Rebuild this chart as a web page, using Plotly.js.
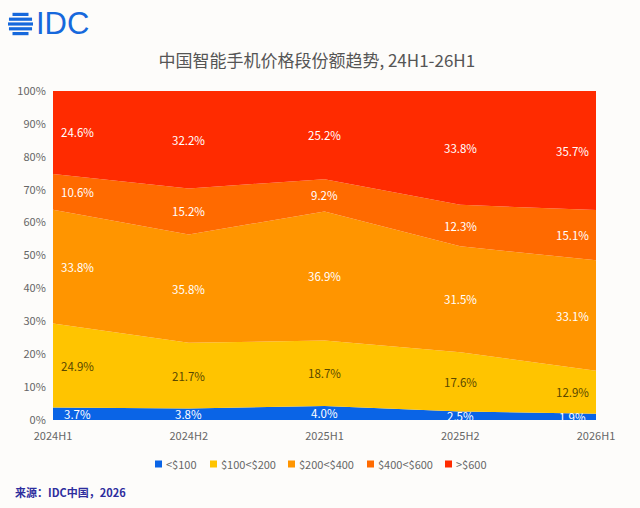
<!DOCTYPE html>
<html>
<head>
<meta charset="utf-8">
<script src="https://cdn.plot.ly/plotly-3.0.1.min.js"></script>
<style>
  html, body { margin: 0; padding: 0; background: #fdfcfa; }
  #chart { width: 640px; height: 508px; }
</style>
</head>
<body>
<div id="chart"></div>
<script>
// periodos e valores (% de participacao por faixa de preco)
const periodos = ["2024H1", "2024H2", "2025H1", "2025H2", "2026H1"];
const faixas = ["<$100", "$100<$200", "$200<$400", "$400<$600", ">$600"];
const ate100 = [3.7, 3.8, 4.0, 2.5, 1.9];
const de100a200 = [24.9, 21.7, 18.7, 17.6, 12.9];
const de200a400 = [33.8, 35.8, 36.9, 31.5, 33.1];
const de400a600 = [10.6, 15.2, 9.2, 12.3, 15.1];
const acima600 = [24.6, 32.2, 25.2, 33.8, 35.7];

const series = [ate100, de100a200, de200a400, de400a600, acima600];
const cores = ["#0a64e6", "#ffc400", "#ff9500", "#ff6a00", "#ff2b00"];
const corTexto = ["#ffffff", "#5a4800", "#ffffff", "#ffffff", "#ffffff"];
const FONTE = "Noto Sans CJK SC, Noto Sans, sans-serif";

// converte pixel da pagina para coordenadas paper
const PL = 53, PW = 543, PB = 420, PH = 329;
const px = (v) => (v - PL) / PW;
const py = (v) => (PB - v) / PH;

const traces = series.map((vals, i) => ({
    x: periodos,
    y: vals,
    name: faixas[i],
    type: "scatter",
    mode: "none",
    stackgroup: "g",
    groupnorm: "percent",
    fillcolor: cores[i],
    line: { width: 0 },
    hoverinfo: "skip",
}));

// rotulos no meio de cada faixa (posicao normalizada)
const annotations = [];
periodos.forEach((p, j) => {
    const total = series.reduce((s, arr) => s + arr[j], 0);
    let base = 0;
    series.forEach((arr, i) => {
        const h = arr[j] / total * 100;
        let xshift = 0;
        if (j === 0) xshift = 24;
        if (j === periodos.length - 1) xshift = -24;
        annotations.push({
            x: j, y: base + h / 2, xref: "x", yref: "y",
            text: arr[j].toFixed(1) + "%",
            showarrow: false, xshift: xshift,
            font: { family: FONTE, size: 11.5, color: corTexto[i] },
        });
        base += h;
    });
});

const shapes = [];

// legenda feita a mao (quadrados pequenos)
const legX = [155, 210, 288, 367, 445];
faixas.forEach((nome, i) => {
    shapes.push({
        type: "rect", xref: "paper", yref: "paper",
        x0: px(legX[i]), x1: px(legX[i] + 7),
        y0: py(467.5), y1: py(460.5),
        fillcolor: cores[i], line: { width: 0 },
    });
    annotations.push({
        x: px(legX[i] + 9), y: py(464), xref: "paper", yref: "paper",
        text: nome, showarrow: false, xanchor: "left", yanchor: "middle",
        font: { family: FONTE, size: 11, color: "#666666" },
    });
});

annotations.push({
    x: px(13), y: py(492), xref: "paper", yref: "paper",
    text: "<b>来源：IDC中国，2026</b>",
    showarrow: false, xanchor: "left", yanchor: "middle",
    font: { family: FONTE, size: 11, color: "#2e2e9e" },
});
annotations.push({
    text: "IDC", showarrow: false,
    xref: "paper", yref: "paper",
    x: px(34), y: py(24),
    xanchor: "left", yanchor: "middle",
    font: { family: "Liberation Sans, Arial, sans-serif", size: 31, color: "#1668dc" },
});

// logo: listras horizontais formando um circulo
const cx = 20.5, cy = 24, r = 12.5;
[-9.6, -4.8, 0, 4.8, 9.6].forEach((dy) => {
    const hw = Math.sqrt(r * r - dy * dy);
    shapes.push({
        type: "line", xref: "paper", yref: "paper",
        x0: px(cx - hw), x1: px(cx + hw),
        y0: py(cy + dy), y1: py(cy + dy),
        line: { color: "#1668dc", width: 3.2 },
    });
});

const layout = {
    width: 640,
    height: 508,
    paper_bgcolor: "#fdfcfa",
    plot_bgcolor: "#ffffff",
    font: { family: FONTE, color: "#666666", size: 11 },
    margin: { l: 53, r: 44, t: 91, b: 88 },
    showlegend: false,
    title: {
        text: "中国智能手机价格段份额趋势, 24H1-26H1",
        font: { family: FONTE, size: 17, color: "#555555" },
        x: 0.495, xanchor: "center", y: 1 - 61 / 508, yanchor: "middle",
    },
    xaxis: {
        type: "category",
        range: [0, periodos.length - 1],
        showgrid: false, zeroline: false, showline: false,
        ticks: "outside", ticklen: 6, tickcolor: "rgba(0,0,0,0)",
        tickfont: { size: 11, color: "#666666" },
    },
    yaxis: {
        range: [0, 100],
        dtick: 10,
        ticksuffix: "%",
        showgrid: false, zeroline: false, showline: false,
        ticks: "outside", ticklen: 4, tickcolor: "rgba(0,0,0,0)",
        tickfont: { size: 11, color: "#666666" },
    },
    annotations: annotations,
    shapes: shapes,
};

Plotly.newPlot("chart", traces, layout, { displayModeBar: false, staticPlot: true });
</script>
</body>
</html>
